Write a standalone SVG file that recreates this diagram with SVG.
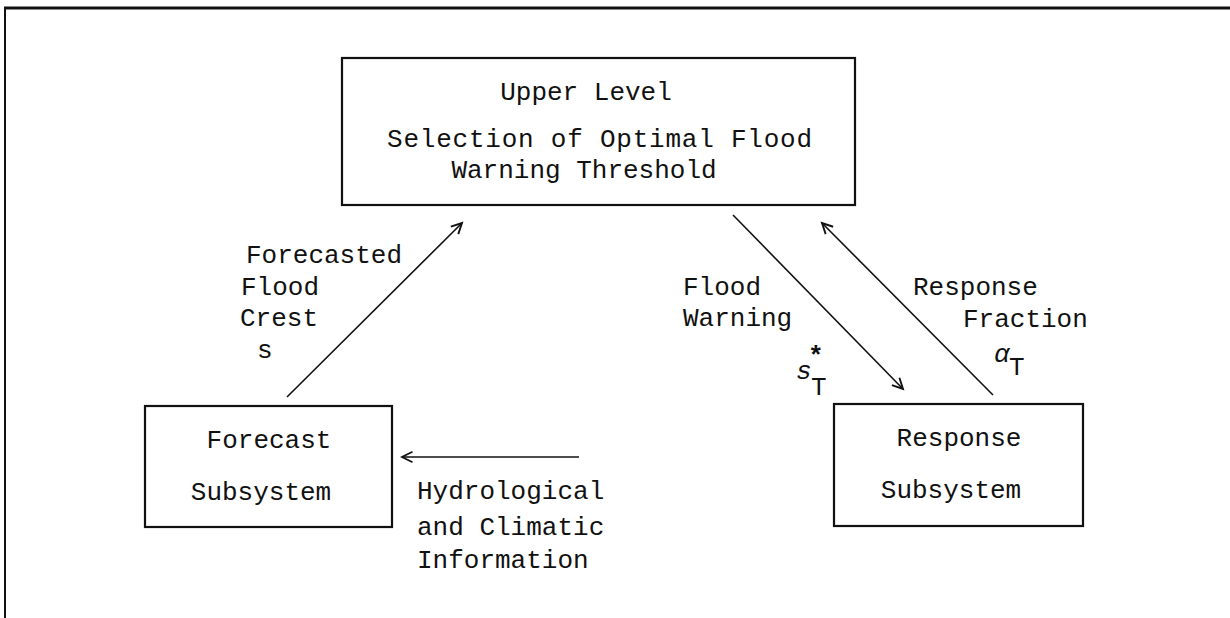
<svg xmlns="http://www.w3.org/2000/svg" width="1230" height="618" viewBox="0 0 1230 618">
<style>
.box{fill:#fff;stroke:#111;stroke-width:2.2}
.t{font-family:"Liberation Mono","DejaVu Sans Mono",monospace;font-size:26px;fill:#111}
.c{text-anchor:middle}
.con{stroke:#111;stroke-width:1.6;fill:none}
.frame{stroke:#111;fill:none}
</style>
<defs>
<marker id="arr" markerUnits="userSpaceOnUse" markerWidth="14" markerHeight="14" refX="10" refY="5" orient="auto" viewBox="0 0 12 10">
<path d="M1,0.5 L10,5 L1,9.5" fill="none" stroke="#111" stroke-width="1.6"/>
</marker>
</defs>
<rect width="1230" height="618" fill="#fff"/>
<g id="frame">
<line class="frame" x1="4" y1="8" x2="1230" y2="8" stroke-width="3"/>
<line class="frame" x1="5" y1="7" x2="5" y2="618" stroke-width="2"/>
</g>
<g id="upper">
<rect class="box" x="342" y="58" width="513" height="147"/>
<text class="t c" x="586" y="100">Upper Level</text>
<text class="t" x="387" y="147" textLength="425" lengthAdjust="spacing">Selection of Optimal Flood</text>
<text class="t c" x="584" y="178">Warning Threshold</text>
</g>
<g id="forecast">
<rect class="box" x="145" y="406" width="247" height="121"/>
<text class="t c" x="269" y="448">Forecast</text>
<text class="t c" x="261" y="500">Subsystem</text>
</g>
<g id="response">
<rect class="box" x="834" y="404" width="249" height="122"/>
<text class="t c" x="959" y="446">Response</text>
<text class="t c" x="951" y="498">Subsystem</text>
</g>
<g id="connectors">
<line class="con" x1="287" y1="397" x2="462" y2="223" marker-end="url(#arr)"/>
<line class="con" x1="733" y1="215" x2="903" y2="389" marker-end="url(#arr)"/>
<line class="con" x1="993" y1="395" x2="822" y2="223" marker-end="url(#arr)"/>
<line class="con" x1="579" y1="457" x2="402" y2="457" marker-end="url(#arr)"/>
</g>
<g id="labels">
<text class="t" x="246" y="263">Forecasted</text>
<text class="t" x="241" y="295">Flood</text>
<text class="t" x="240" y="326">Crest</text>
<text class="t" x="257" y="358">s</text>
<text class="t" x="683" y="295">Flood</text>
<text class="t" x="683" y="326">Warning</text>
<text class="t" x="796" y="379" font-style="italic">s</text>
<text class="t" x="808" y="364" font-weight="bold">*</text>
<text class="t" x="811" y="395" font-size="22">T</text>
<text class="t" x="913" y="295">Response</text>
<text class="t" x="963" y="327">Fraction</text>
<text class="t" x="994" y="362" font-style="italic" font-size="22">α</text>
<text class="t" x="1009" y="375" font-size="22">T</text>
<text class="t" x="417" y="499">Hydrological</text>
<text class="t" x="417" y="535">and Climatic</text>
<text class="t" x="417" y="568">Information</text>
</g>
</svg>
